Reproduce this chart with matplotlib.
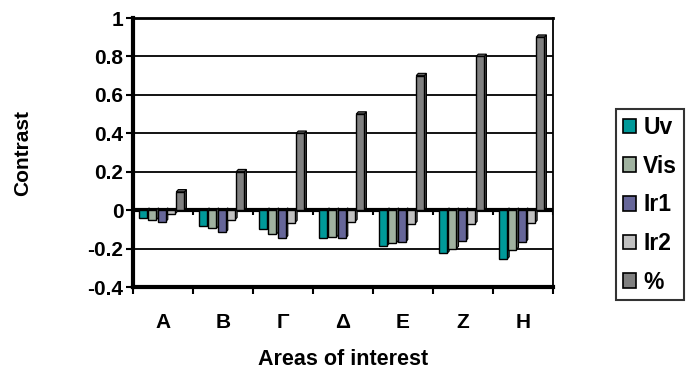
import numpy as np
import matplotlib
matplotlib.use("Agg")
import matplotlib.pyplot as plt
from matplotlib.patches import Patch, Polygon
from matplotlib.colors import to_rgb

plt.rcParams["font.family"] = ["Liberation Sans", "DejaVu Sans"]
plt.rcParams["font.weight"] = "bold"

# Contrast per area of interest, one list per band
areas = ["A", "B", "Γ", "Δ", "E", "Z", "H"]
uv = [-0.04, -0.085, -0.10, -0.145, -0.185, -0.225, -0.255]
vis = [-0.05, -0.095, -0.125, -0.14, -0.17, -0.20, -0.205]
ir1 = [-0.06, -0.115, -0.145, -0.145, -0.165, -0.16, -0.165]
ir2 = [-0.02, -0.05, -0.065, -0.06, -0.07, -0.07, -0.065]
pct = [0.095, 0.20, 0.40, 0.50, 0.70, 0.80, 0.90]

series = [("Uv", uv, "#009999"), ("Vis", vis, "#a0b2a0"),
          ("Ir1", ir1, "#666699"), ("Ir2", ir2, "#c0c0c0"),
          ("%", pct, "#808080")]

fig = plt.figure(figsize=(6.95, 3.76), dpi=100)
ax = fig.add_axes([0.1914, 0.2367, 0.6043, 0.7154])

x = np.arange(len(areas))
width = 0.135
pitch = 0.155
offset = 0.1
dx, dy = 0.035, 0.012   # depth of the column sides


def darker(c, f=0.55):
    r, g, b = to_rgb(c)
    return (r * f, g * f, b * f)


for j, (name, vals, color) in enumerate(series):
    left = x - 0.5 + offset + j * pitch
    for xl, v in zip(left, vals):
        xr = xl + width
        # right side face
        side = Polygon([(xr, 0), (xr, v), (xr + dx, v + dy), (xr + dx, dy)],
                       closed=True, facecolor=darker(color), edgecolor="black",
                       linewidth=0.8, zorder=3 + j)
        ax.add_patch(side)
        if v > 0:
            top = Polygon([(xl, v), (xr, v), (xr + dx, v + dy), (xl + dx, v + dy)],
                          closed=True, facecolor=darker(color, 0.75),
                          edgecolor="black", linewidth=0.8, zorder=3 + j)
            ax.add_patch(top)
    ax.bar(left, vals, width=width, align="edge", color=color,
           edgecolor="black", linewidth=1.0, zorder=3.5 + j)

ax.set_xlim(-0.5, len(areas) - 0.5)
ax.set_ylim(-0.4, 1.0)
ax.set_yticks(np.arange(-0.4, 1.01, 0.2))
ax.set_yticklabels(["-0.4", "-0.2", "0", "0.2", "0.4", "0.6", "0.8", "1"])
ax.yaxis.grid(True, color="black", linewidth=1.3)
ax.set_axisbelow(True)

ax.set_xticks(x)
ax.set_xticklabels(areas)
ax.set_xticks(np.arange(-0.5, len(areas)), minor=True)
ax.tick_params(axis="x", which="major", length=0, pad=19, labelsize=15)
ax.tick_params(axis="x", which="minor", length=5, width=1.5, direction="out")
ax.tick_params(axis="y", length=5, width=1.5, labelsize=15, pad=2)

# category axis drawn through zero
ax.axhline(0, color="black", linewidth=3, zorder=2.5)
ax.vlines(np.arange(-0.5, len(areas)), -0.025, 0, color="black",
          linewidth=1.5, zorder=2.5)

for s in ["left", "bottom"]:
    ax.spines[s].set_linewidth(3)
ax.spines["top"].set_linewidth(2)
ax.spines["right"].set_linewidth(1.3)

ax.set_ylabel("Contrast", fontsize=15, fontweight="bold", labelpad=40)
ax.set_xlabel("Areas of interest", fontsize=15.5, fontweight="bold", labelpad=12)

handles = [Patch(facecolor=c, edgecolor="black", linewidth=1.2, label=n)
           for n, _, c in series]
leg = fig.legend(handles=handles, loc="center left",
                 bbox_to_anchor=(0.886, 0.455), frameon=True, fancybox=False,
                 edgecolor="black", fontsize=16.5, handlelength=0.6,
                 handleheight=0.6, handletextpad=0.3, labelspacing=0.68,
                 borderpad=0.3, borderaxespad=0)
leg.get_frame().set_linewidth(1.5)

fig.savefig("out.png", dpi=100)
